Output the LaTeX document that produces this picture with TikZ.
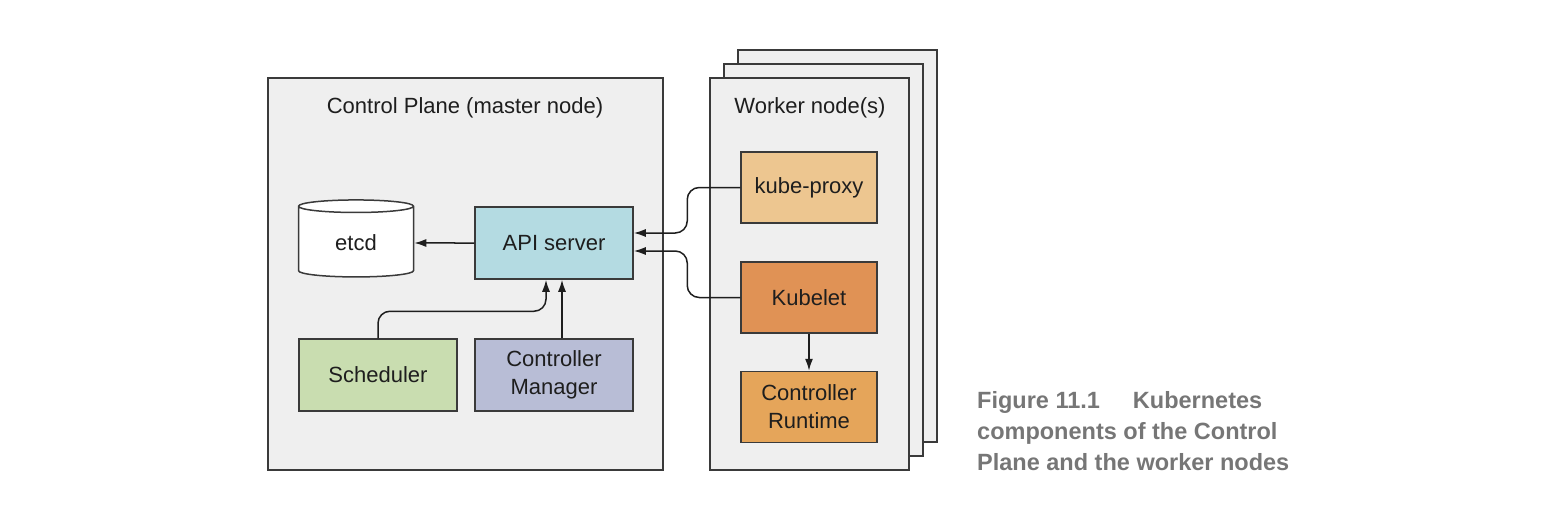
\documentclass[tikz,border=0pt]{standalone}
\usepackage{fontspec}
\setmainfont{Liberation Sans}
\usetikzlibrary{positioning,calc,arrows.meta,shapes.geometric}
\definecolor{panelfill}{HTML}{EFEFEF}
\definecolor{linegray}{HTML}{3A3A3A}
\definecolor{textdark}{HTML}{1E1E1E}
\definecolor{apiblue}{HTML}{B4DBE2}
\definecolor{schedgreen}{HTML}{C9DDB0}
\definecolor{mgrpurple}{HTML}{B8BDD6}
\definecolor{proxytan}{HTML}{EDC690}
\definecolor{kubeletorange}{HTML}{E09255}
\definecolor{runtimeorange}{HTML}{E5A55A}
\definecolor{captiongray}{HTML}{767676}

\begin{document}
\begin{tikzpicture}[
    x=1pt, y=-1pt,
    panel/.style={draw=linegray, line width=1.5pt, fill=panelfill},
    comp/.style={rectangle, draw=linegray, line width=1.5pt, fill=#1, text=textdark,
        minimum width=158pt, minimum height=72pt, align=center,
        font=\fontsize{22}{28}\selectfont},
    comp/.default={white},
    wcomp/.style={comp=#1, minimum width=136pt, minimum height=71pt},
    title/.style={text=textdark, font=\fontsize{22}{26}\selectfont},
    link/.style={-{Latex[length=12pt, width=8pt]}, line width=1.5pt, draw=textdark},
    ]
    \useasboundingbox (0,0) rectangle (1564,516);

    %% panels
    \draw[panel] (268,78) rectangle (663,470);
    \draw[panel] (738,50) rectangle (937,442);
    \draw[panel] (724,64) rectangle (923,456);
    \draw[panel] (710,78) rectangle (909,470);

    \node[title] (cp_title) at (465,108) {Control Plane (master node)};
    \node[title] (wn_title) at (810,108) {Worker node(s)};

    %% control plane components
    \node[comp=apiblue] (api) at (554,243) {API server};
    \node[cylinder, shape border rotate=90, aspect=0.26, draw=linegray, line width=1.5pt,
        fill=white, text=textdark, minimum width=115pt, minimum height=77pt,
        font=\fontsize{22}{28}\selectfont] (etcd) at (356,243) {etcd};
    \node[comp=schedgreen] (sched) at (378,375) {Scheduler};
    \node[comp=mgrpurple] (mgr) at (554,375) {Controller\\Manager};

    %% worker components
    \node[wcomp=proxytan] (proxy) at (809,187.5) {kube-proxy};
    \node[wcomp=kubeletorange] (kubelet) at (809,297.5) {Kubelet};
    \node[wcomp=runtimeorange] (runtime) at (809,407) {Controller\\Runtime};

    %% arrows
    \draw[link] (api.west) -- (etcd.east);
    \draw[link, rounded corners=12pt] (sched.north) -- ++(0,-27) -| ([xshift=-8pt]api.south);
    \draw[link] ([xshift=8pt]mgr.north) -- ([xshift=8pt]api.south);
    \draw[link, rounded corners=12pt] (proxy.west) -- ++(-53,0) |- ([yshift=10pt]api.east);
    \draw[link, rounded corners=12pt] (kubelet.west) -- ++(-53,0) |- ([yshift=-8pt]api.east);
    \draw[link] (kubelet.south) -- (runtime.north);

    %% caption
    \node[anchor=north west, align=left, text=captiongray, inner sep=0pt,
        font=\fontsize{23.5}{31}\selectfont\bfseries] (caption) at (977,391)
        {Figure 11.1\hspace{33pt}Kubernetes\\components of the Control\\Plane and the worker nodes};
\end{tikzpicture}
\end{document}
